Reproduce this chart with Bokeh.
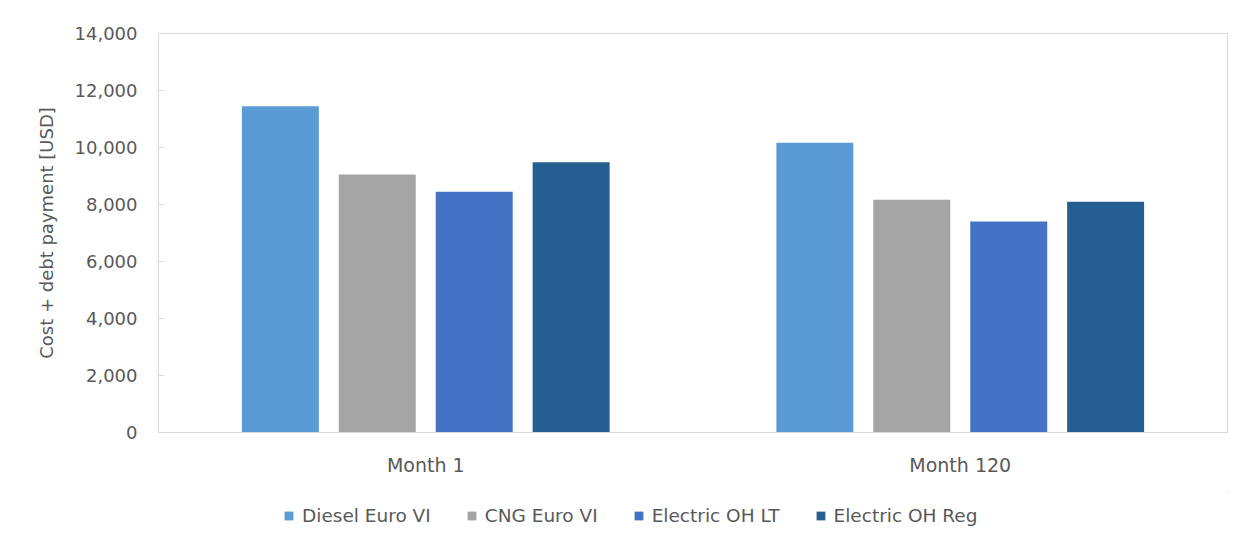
from bokeh.plotting import figure
from bokeh.layouts import column
from bokeh.models import FactorRange, Range1d, Legend, LegendItem, NumeralTickFormatter, FixedTicker
from bokeh.transform import dodge
from bokeh.embed import file_html
from bokeh.resources import INLINE

months = ["Month 1", "Month 120"]
series = ["Diesel Euro VI", "CNG Euro VI", "Electric OH LT", "Electric OH Reg"]
diesel = [11450, 10170]
cng = [9050, 8170]
elec_lt = [8450, 7400]
elec_reg = [9480, 8100]
colors = ["#5B9BD5", "#A5A5A5", "#4472C4", "#255E91"]
y_ticks = [0, 2000, 4000, 6000, 8000, 10000, 12000, 14000]

FONT = "DejaVu Sans"
GREY = "#595959"

data = {"month": months, "d": diesel, "c": cng, "l": elec_lt, "r": elec_reg}

p = figure(x_range=FactorRange(*months, range_padding=0), y_range=Range1d(0, 14000),
           frame_width=1069, frame_height=399, min_border_left=158, min_border_right=16,
           min_border_top=33, min_border_bottom=60,
           output_backend="svg", toolbar_location=None)

keys = ["d", "c", "l", "r"]
offsets = [-0.272, -0.0907, 0.0907, 0.272]
for k, off, col in zip(keys, offsets, colors):
    p.vbar(x=dodge("month", off, range=p.x_range), top=k, width=0.144, source=data,
           fill_color=col, line_color=None)

p.xgrid.visible = False
p.ygrid.visible = False
p.outline_line_color = "#D9D9D9"
p.outline_line_width = 1

p.yaxis.ticker = FixedTicker(ticks=y_ticks)
p.yaxis.formatter = NumeralTickFormatter(format="0,0")
p.yaxis.axis_line_color = None
p.yaxis.major_tick_in = 6
p.yaxis.major_tick_out = 0
p.yaxis.major_tick_line_color = "#D9D9D9"
p.yaxis.minor_tick_line_color = None
p.yaxis.major_label_text_font = FONT
p.yaxis.major_label_text_font_size = "18px"
p.yaxis.major_label_text_color = GREY
p.yaxis.major_label_standoff = 21
p.yaxis.axis_label = "Cost + debt payment [USD]"
p.yaxis.axis_label_text_font = FONT
p.yaxis.axis_label_text_font_size = "18px"
p.yaxis.axis_label_text_font_style = "normal"
p.yaxis.axis_label_text_color = GREY
p.yaxis.axis_label_standoff = 15

p.xaxis.axis_line_color = "#D9D9D9"
p.xaxis.major_tick_line_color = None
p.xaxis.minor_tick_line_color = None
p.xaxis.major_tick_in = 0
p.xaxis.major_tick_out = 0
p.xaxis.major_label_text_font = FONT
p.xaxis.major_label_text_font_size = "19px"
p.xaxis.major_label_text_color = GREY
p.xaxis.major_label_standoff = 21

# Legend strip below the chart (placeholder glyphs lie outside the visible range)
lf = figure(width=1243, height=54, x_range=Range1d(0, 1), y_range=Range1d(0, 1),
            x_axis_type=None, y_axis_type=None, min_border=0,
            output_backend="svg", toolbar_location=None)
lf.outline_line_color = None
lf.background_fill_color = "white"
leg_renderers = []
for col in colors:
    leg_renderers.append(lf.vbar(x=[5], top=[5], bottom=[4], width=0.1,
                                 fill_color=col, line_color=None))

legend = Legend(items=[LegendItem(label=s, renderers=[r]) for s, r in zip(series, leg_renderers)],
                orientation="horizontal", location=(125, 20),
                label_text_font=FONT, label_text_font_size="18.5px", label_text_color=GREY,
                glyph_width=11, glyph_height=11, label_standoff=8, spacing=35,
                border_line_color=None, background_fill_alpha=0, margin=0, padding=0)
lf.add_layout(legend, "center")

layout = column(p, lf, spacing=0)

open("out.html", "w").write(file_html(layout, INLINE))
